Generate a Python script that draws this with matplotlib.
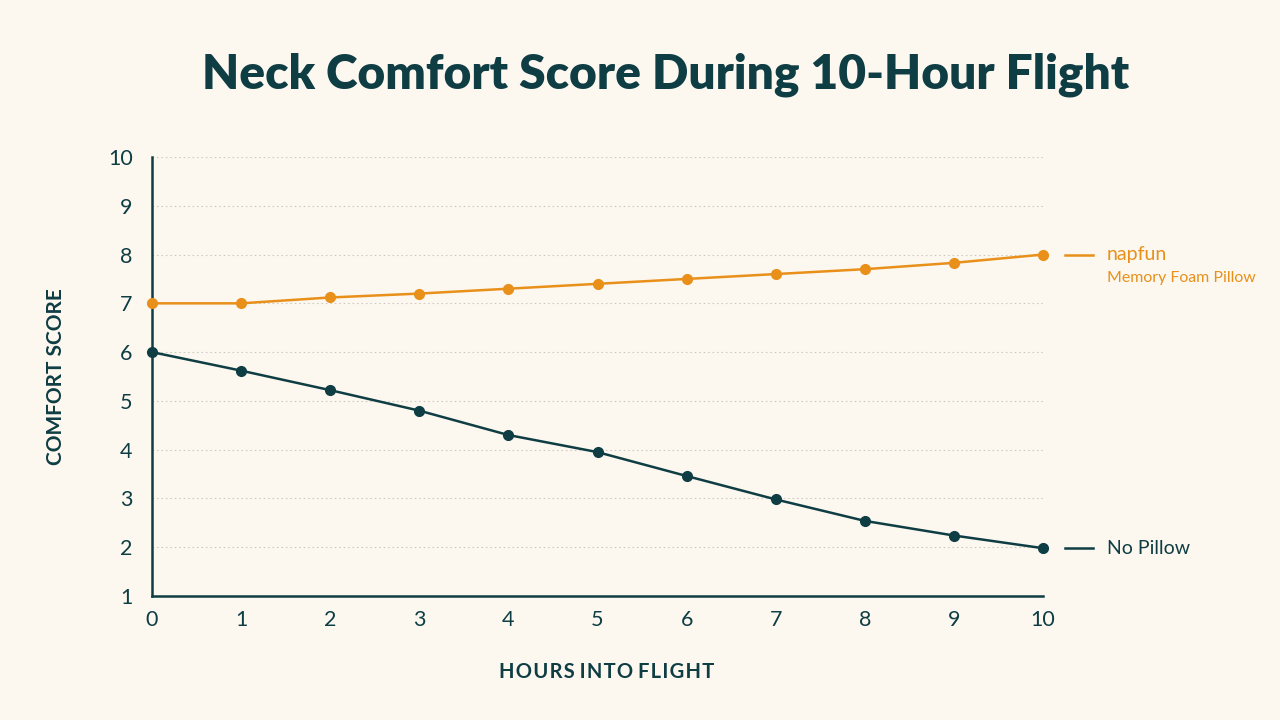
import matplotlib
matplotlib.use("Agg")
import matplotlib.pyplot as plt

hours = [0, 1, 2, 3, 4, 5, 6, 7, 8, 9, 10]
napfun = [7.0, 7.0, 7.12, 7.2, 7.3, 7.4, 7.5, 7.6, 7.7, 7.83, 8.0]
no_pillow = [6.0, 5.62, 5.22, 4.8, 4.3, 3.95, 3.46, 2.98, 2.54, 2.24, 1.98]
yticks = [1, 2, 3, 4, 5, 6, 7, 8, 9, 10]

BG = "#FCF7EF"
TEAL = "#0E3D44"
ORANGE = "#E8901A"

plt.rcParams['font.family'] = ['Lato', 'DejaVu Sans']

def spaced(s):
    return " ".join("\u200a".join(w) for w in s.split(" "))

fig = plt.figure(figsize=(12.8, 7.2), dpi=100, facecolor=BG)
ax = fig.add_axes([152/1280, 1 - 596/720, (1043-152)/1280, (596-157)/720])
ax.set_facecolor(BG)

ax.plot(hours, napfun, color=ORANGE, lw=1.8, marker='o', ms=7, zorder=3, clip_on=False)
ax.plot(hours, no_pillow, color=TEAL, lw=1.8, marker='o', ms=7, zorder=3, clip_on=False)

ax.set_xlim(0, 10)
ax.set_ylim(1, 10)
ax.set_xticks(hours)
ax.set_yticks(yticks)
ax.tick_params(length=0, labelsize=15.5, labelcolor=TEAL)
ax.tick_params(axis='y', pad=14)
ax.tick_params(axis='x', pad=10)
for s in ['top', 'right']:
    ax.spines[s].set_visible(False)
for s in ['left', 'bottom']:
    ax.spines[s].set_color(TEAL)
    ax.spines[s].set_linewidth(1.8)
ax.yaxis.grid(True, color='#CFCBC4', linestyle=(0, (1.5, 2.5)), linewidth=0.8)
ax.set_axisbelow(True)

ax.set_xlabel(spaced("HOURS INTO FLIGHT"), fontsize=14.5, color=TEAL, fontweight='bold', labelpad=24)
ax.xaxis.set_label_coords(0.51, -0.15)
ax.set_ylabel("COMFORT SCORE", fontsize=15, color=TEAL, fontweight='bold', labelpad=30)

fig.text(0.52, 1 - 75/720, "Neck Comfort Score During 10-Hour Flight", fontsize=34.5,
         fontweight='heavy', color=TEAL, ha='center', va='center')

def end_label(y, color, label, sub=None):
    x0 = 1065/1280; x1 = 1093/1280
    yd = ax.transData.transform((10, y))[1] / 720
    fig.add_artist(plt.Line2D([x0, x1], [yd, yd], color=color, lw=1.8, transform=fig.transFigure))
    fig.text(1107/1280, yd, label, fontsize=14, color=color, va='center', ha='left')
    if sub:
        fig.text(1107/1280, yd - 23/720, sub, fontsize=11.4, color=color, va='center', ha='left')

end_label(napfun[-1], ORANGE, "napfun", "Memory Foam Pillow")
end_label(no_pillow[-1], TEAL, "No Pillow")

fig.savefig("out.png", dpi=100, facecolor=BG)
